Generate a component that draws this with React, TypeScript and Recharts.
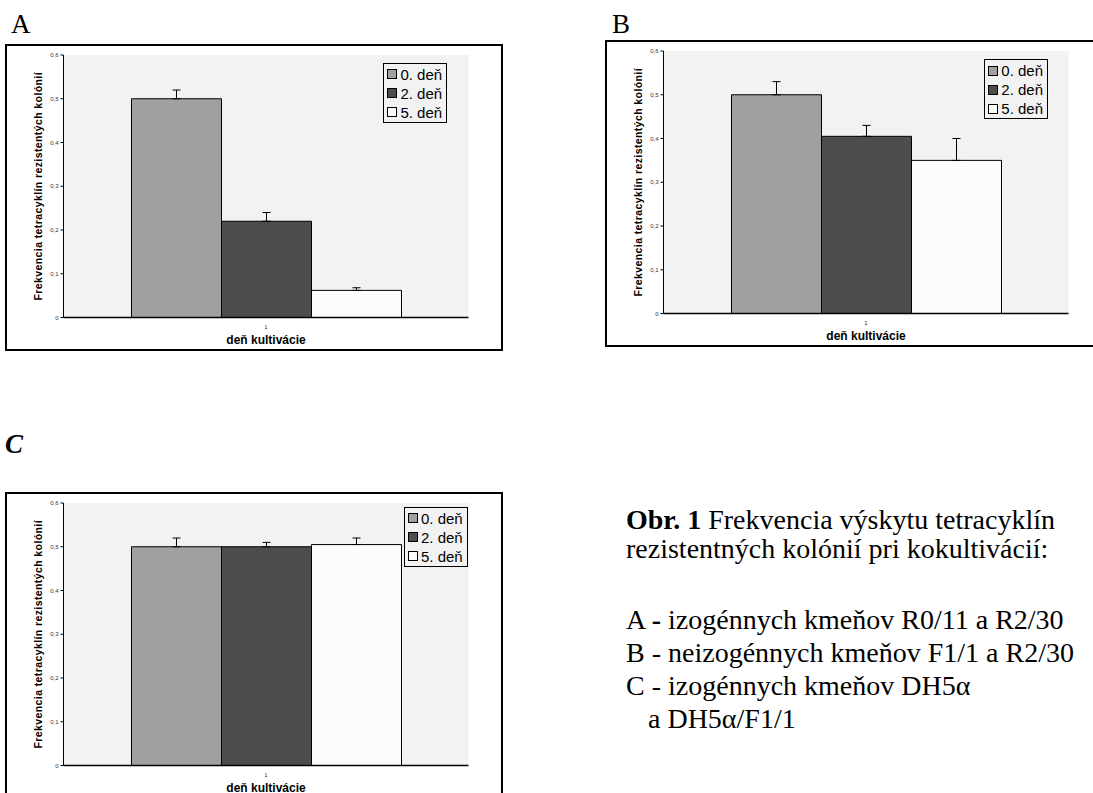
import React from 'react';
import {
  BarChart,
  Bar,
  XAxis,
  YAxis,
  CartesianGrid,
  Legend,
  ErrorBar,
} from 'recharts';

// spoločné nastavenia
const categories = ['1'];
const seriesNames = ['0. deň', '2. deň', '5. deň'];
const seriesColors = ['#a0a0a0', '#4d4d4d', '#fcfcfc'];
const yTicks = [0, 0.1, 0.2, 0.3, 0.4, 0.5, 0.6];

// A - izogénne kmene R0/11 a R2/30
const meansA = [0.5, 0.22, 0.062];
const errorsA = [0.02, 0.02, 0.006];

// B - neizogénne kmene F1/1 a R2/30
const meansB = [0.5, 0.405, 0.35];
const errorsB = [0.03, 0.025, 0.05];

// C - DH5α a DH5α/F1/1
const meansC = [0.5, 0.5, 0.505];
const errorsC = [0.02, 0.01, 0.015];

const BOX_W = 498;
const BOX_H = 307;
const SANS = '"Liberation Sans", Arial, sans-serif';
const SERIF = '"Liberation Serif", "Times New Roman", serif';

const buildData = (means: number[], errors: number[]) =>
  categories.map((day) => {
    const row: any = { day };
    means.forEach((m, i) => {
      row[`s${i}`] = m;
      // chyba len smerom hore
      row[`e${i}`] = [0, errors[i]];
    });
    return row;
  });

const YTitle = (props: any) => {
  const vb = props.viewBox || { x: 0, y: 9, width: 56.5, height: 262.5 };
  const cx = vb.x + 31;
  const cy = vb.y + vb.height / 2;
  return (
    <text
      x={cx}
      y={cy}
      transform={`rotate(-90 ${cx} ${cy})`}
      textAnchor="middle"
      dominantBaseline="central"
      fontFamily={SANS}
      fontWeight="bold"
      fontSize={10.5}
      letterSpacing={0.4}
      fill="#000"
    >
      Frekvencia tetracyklín rezistentých kolónií
    </text>
  );
};

const XTitle = (props: any) => {
  const vb = props.viewBox || { x: 56.5, y: 271.5, width: 405, height: 31.5 };
  return (
    <text
      x={vb.x + vb.width / 2}
      y={vb.y + 22.5}
      textAnchor="middle"
      dominantBaseline="central"
      fontFamily={SANS}
      fontWeight="bold"
      fontSize={12}
      fill="#000"
    >
      deň kultivácie
    </text>
  );
};

const LegendBox = ({ payload }: any) => (
  <div
    style={{
      border: '1px solid #000',
      padding: '1px 4px 0 3px',
      fontFamily: SANS,
      fontSize: 15,
      lineHeight: '19px',
      color: '#000',
      whiteSpace: 'nowrap',
    }}
  >
    {(payload || []).map((p: any) => (
      <div key={p.value} style={{ display: 'flex', alignItems: 'center' }}>
        <span
          style={{
            display: 'inline-block',
            width: 10,
            height: 10,
            boxSizing: 'border-box',
            border: '1px solid #000',
            background: p.color,
            marginRight: 3,
          }}
        />
        {p.value}
      </div>
    ))}
  </div>
);

interface PanelProps {
  left: number;
  top: number;
  means: number[];
  errors: number[];
  legendLeft: number;
  legendTop: number;
}

function Panel({ left, top, means, errors, legendLeft, legendTop }: PanelProps) {
  const data = buildData(means, errors);
  return (
    <div
      style={{
        position: 'absolute',
        left,
        top,
        width: BOX_W,
        height: BOX_H,
        border: '2px solid #000',
        boxSizing: 'border-box',
        background: '#fff',
      }}
    >
      <BarChart
        width={BOX_W - 4}
        height={BOX_H - 4}
        data={data}
        margin={{ top: 9, right: 32.5, bottom: 0, left: 0 }}
        barSize={90}
        barGap={0}
      >
        <CartesianGrid horizontal={false} vertical={false} fill="#f2f2f2" />
        <XAxis
          dataKey="day"
          height={31.5}
          axisLine={{ stroke: '#000', strokeWidth: 1.5 }}
          tickLine={false}
          tickSize={0}
          tickMargin={7}
          tick={{ fontSize: 6, fill: '#333', fontFamily: SANS }}
          label={{ content: XTitle }}
        />
        <XAxis
          xAxisId="frame"
          orientation="top"
          dataKey="day"
          height={0}
          axisLine={{ stroke: '#bdbdbd', strokeWidth: 1.5 }}
          tick={false}
          tickLine={false}
        />
        <YAxis
          width={56.5}
          domain={[0, 0.6]}
          ticks={yTicks}
          interval={0}
          tickFormatter={(v: number) => String(v).replace('.', ',')}
          tickSize={3}
          axisLine={{ stroke: '#000' }}
          tickLine={{ stroke: '#000' }}
          tick={{ fontSize: 6, fill: '#333', fontFamily: SANS }}
          label={{ content: YTitle }}
        />
        <YAxis
          yAxisId="frame"
          orientation="right"
          width={0}
          domain={[0, 0.6]}
          axisLine={{ stroke: '#bdbdbd', strokeWidth: 1.5 }}
          tick={false}
          tickLine={false}
        />
        <Legend
          layout="horizontal"
          verticalAlign="middle"
          align="center"
          wrapperStyle={{ left: legendLeft, top: legendTop, width: 'auto', height: 'auto' }}
          content={LegendBox}
        />
        {seriesNames.map((name, i) => (
          <Bar
            key={name}
            dataKey={`s${i}`}
            name={name}
            fill={seriesColors[i]}
            stroke="#000"
            strokeWidth={1}
            isAnimationActive={false}
          >
            <ErrorBar
              dataKey={`e${i}`}
              width={4}
              stroke="#000"
              strokeWidth={1}
              direction="y"
              isAnimationActive={false}
            />
          </Bar>
        ))}
      </BarChart>
    </div>
  );
}

const panelLetter: React.CSSProperties = {
  position: 'absolute',
  fontFamily: SERIF,
  fontSize: 27,
  lineHeight: '27px',
  color: '#000',
};

// riadky popisu obrázka: [základná čiara y, odsadenie x]
const captionLineY = [529, 558, 629, 662, 695, 728];

const captionLine = (i: number, indent = 0): React.CSSProperties => ({
  position: 'absolute',
  left: 626 + indent,
  top: captionLineY[i] - 23.5,
  fontFamily: SERIF,
  fontSize: 28,
  lineHeight: '28px',
  color: '#000',
  whiteSpace: 'pre',
});

export default function App() {
  return (
    <div
      style={{
        position: 'fixed',
        left: 0,
        top: 0,
        width: 1093,
        height: 793,
        overflow: 'hidden',
        background: '#fff',
      }}
    >
      <div style={{ ...panelLetter, left: 11, top: 10.5 }}>A</div>
      <div style={{ ...panelLetter, left: 612, top: 10.5 }}>B</div>
      <div style={{ ...panelLetter, left: 5, top: 430.7, fontWeight: 'bold', fontStyle: 'italic' }}>C</div>

      <Panel left={5.4} top={43.5} means={meansA} errors={errorsA} legendLeft={376} legendTop={17} />
      <Panel left={605} top={40} means={meansB} errors={errorsB} legendLeft={377.3} legendTop={17.3} />
      <Panel left={5.4} top={491.7} means={meansC} errors={errorsC} legendLeft={396.6} legendTop={13} />

      <div style={captionLine(0)}>
        <b>Obr. 1</b> Frekvencia výskytu tetracyklín
      </div>
      <div style={captionLine(1)}>rezistentných kolónií pri kokultivácií:</div>
      <div style={captionLine(2)}>
        A <b>-</b> izogénnych kmeňov R0/11 a R2/30
      </div>
      <div style={captionLine(3)}>B - neizogénnych kmeňov F1/1 a R2/30</div>
      <div style={captionLine(4)}>C - izogénnych kmeňov DH5α</div>
      <div style={captionLine(5, 22)}>a DH5α/F1/1</div>
    </div>
  );
}
